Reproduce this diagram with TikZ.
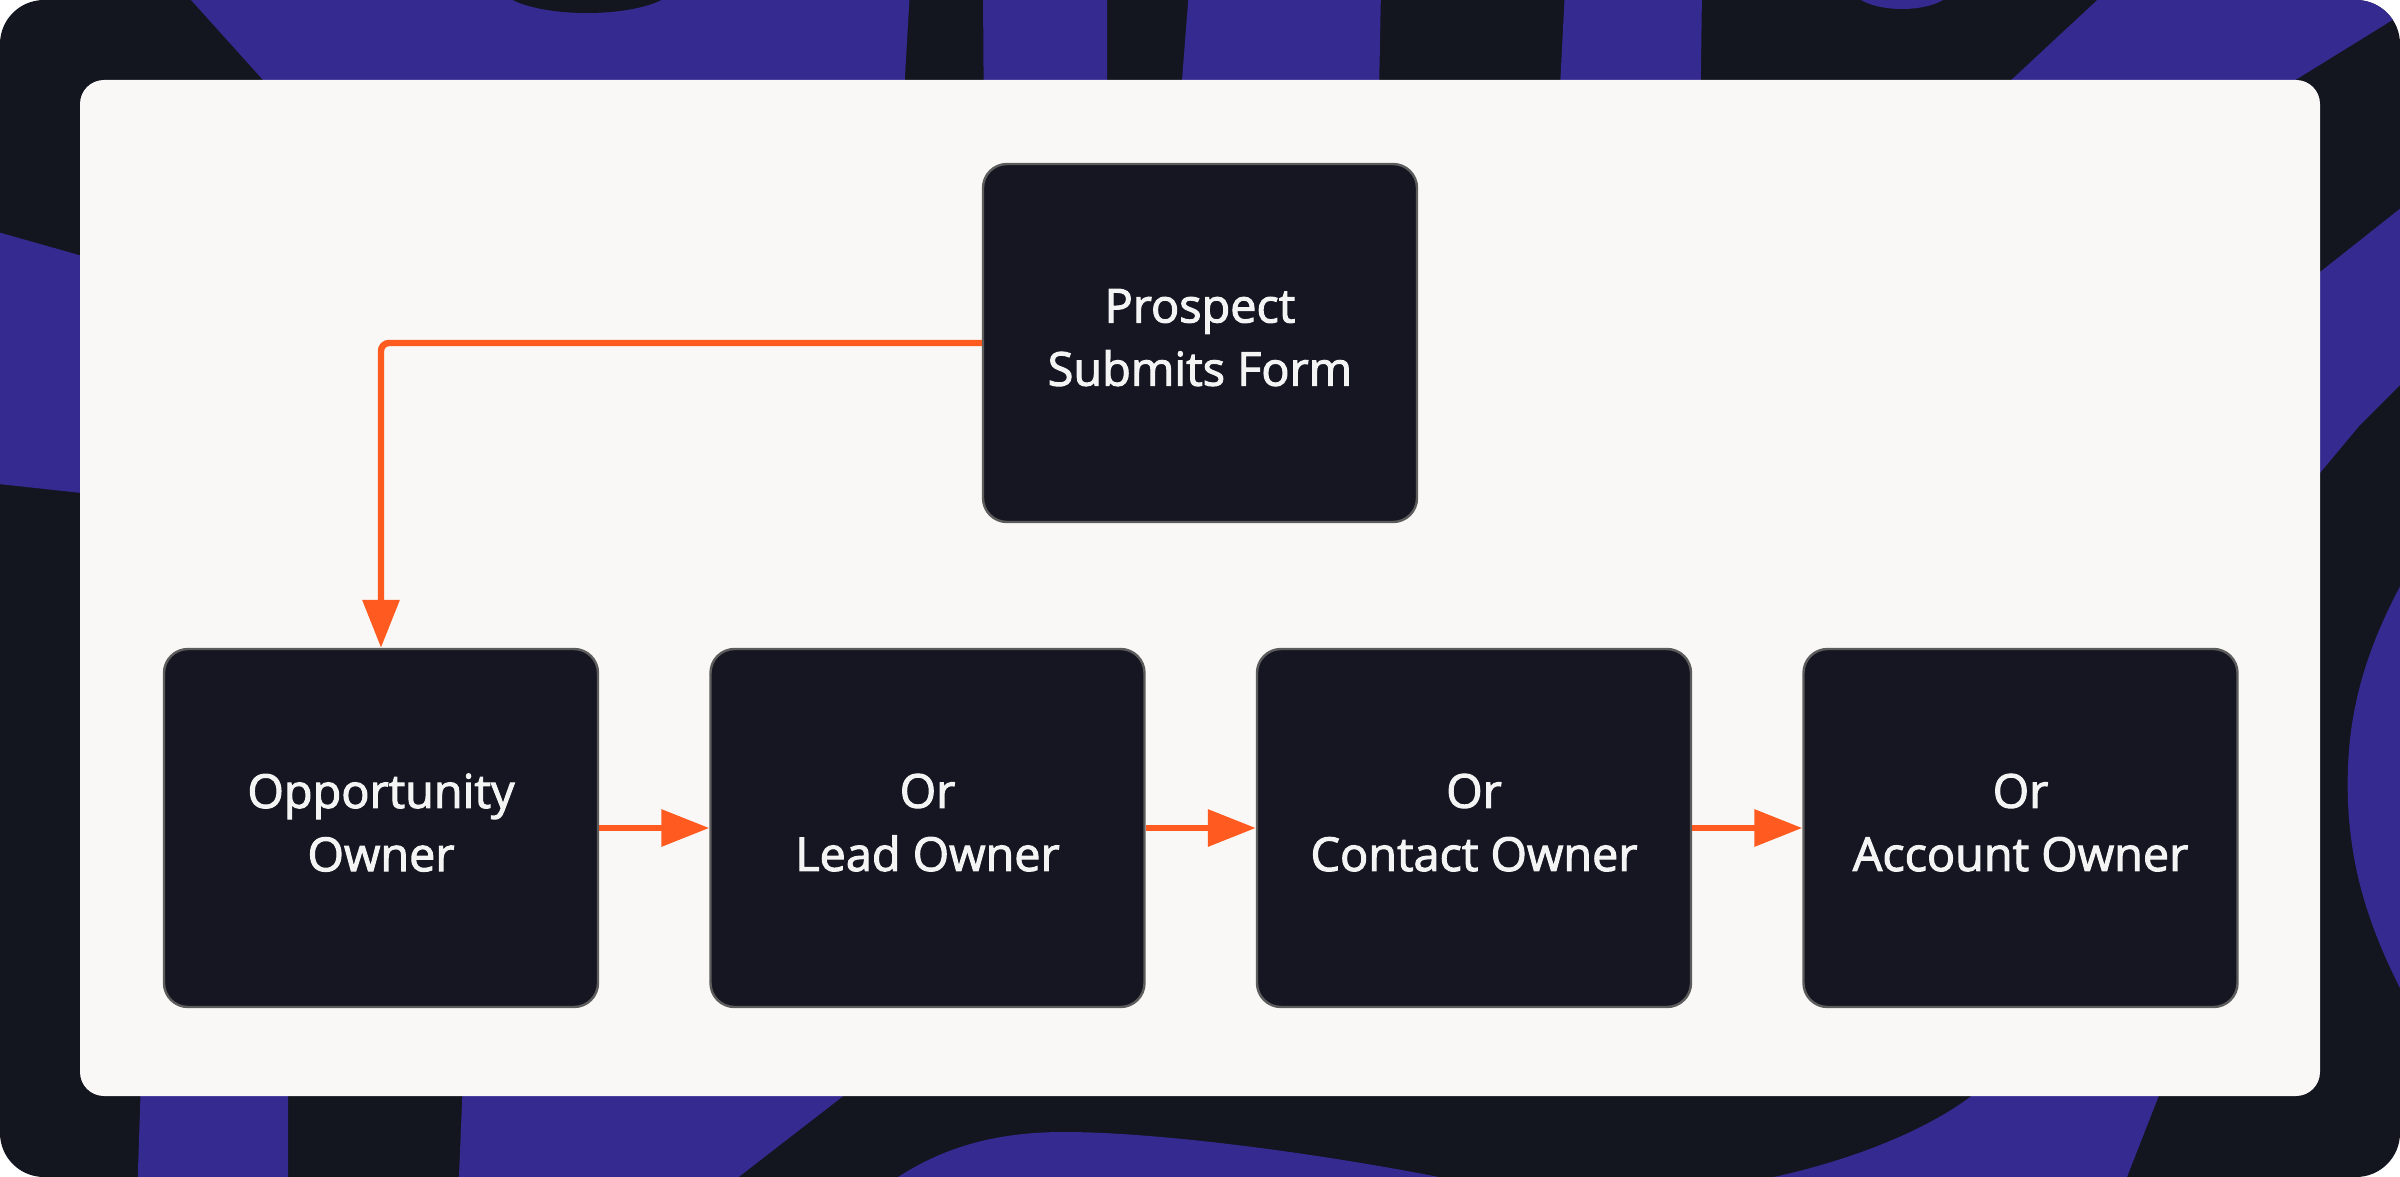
\documentclass[tikz,border=0pt]{standalone}
\usepackage{fontspec}
\setmainfont{Open Sans}
\newfontfamily\boxfont{Open Sans}[FakeBold=2.2]
\usetikzlibrary{arrows.meta}
\definecolor{frame}{HTML}{13151F}
\definecolor{purp}{HTML}{352A90}
\definecolor{panel}{HTML}{F9F8F6}
\definecolor{boxfill}{HTML}{151621}
\definecolor{boxline}{HTML}{5C5C5C}
\definecolor{arr}{HTML}{FF5A1F}
\definecolor{boxtext}{HTML}{F4F4F4}
\begin{document}
\begin{tikzpicture}[x=0.25pt,y=-0.25pt,
 flowbox/.style={draw=boxline, line width=0.6pt, fill=boxfill, rounded corners=6pt,
   minimum width=108.5pt, minimum height=89.5pt, inner sep=0pt, text=boxtext,
   text depth=2.8pt, align=center, font=\boxfont\fontsize{11.7pt}{15.8pt}\selectfont},
 flow/.style={draw=arr, line width=1.6pt, -{Triangle[length=12pt,width=9pt]}}]
\useasboundingbox (0,0) rectangle (2400,1177);
\begin{scope}
\clip[rounded corners=11pt] (0,0) rectangle (2400,1177);
\fill[frame] (0,0) rectangle (2400,1177);
% top bands
\fill[purp] (182,-10) -- (910,-10) -- (892,300) -- (461,300) -- cycle;
\fill[frame] (587,-15) ellipse [x radius=88, y radius=28];
\fill[purp] (983,-10) -- (1107,-10) -- (1107,300) -- (985,300) -- cycle;
\fill[purp] (1189,-10) -- (1381,-10) -- (1375,300) -- (1165,300) -- cycle;
\fill[purp] (1565,-10) -- (1702,-10) -- (1698,300) -- (1549,300) -- cycle;
\fill[purp] (1902,-12) ellipse [x radius=50, y radius=21];
\fill[purp] (2108,-10) -- (2420,-10) -- (2420,3) -- (2200,139) -- (1936,150) -- cycle;
% right bands
\fill[purp] (2200,367) -- (2440,177) -- (2440,350) -- (2400,385) -- (2360,425)
  -- (2320,473) -- (2250,570) -- cycle;
\fill[purp] (2440,520) .. controls (2360,640) and (2345,720) .. (2348,803)
  .. controls (2352,890) and (2380,960) .. (2440,1060) -- cycle;
% left band
\fill[purp] (-20,227) -- (100,261) -- (100,495) -- (-20,482) -- cycle;
% bottom bands
\fill[purp] (141,1080) -- (288,1080) -- (288,1200) -- (137,1200) -- cycle;
\fill[purp] (463,1080) -- (864,1080) -- (709,1200) -- (458,1200) -- cycle;
\fill[purp] (880,1200) -- (898,1177) .. controls (940,1150) and (990,1132) .. (1064,1132)
  .. controls (1150,1132) and (1300,1150) .. (1439,1177) -- (1470,1200) -- cycle;
\fill[purp] (1990,1080) .. controls (1950,1120) and (1850,1170) .. (1700,1190)
  -- (1700,1200) -- (2118,1200) -- (2165,1080) -- cycle;
\end{scope}
\fill[panel, rounded corners=6pt] (80,80) rectangle (2320,1096);
\node[flowbox] (top) at (1200,343) {Prospect\\Submits Form};
\node[flowbox] (b1) at (381,828) {Opportunity\\Owner};
\node[flowbox] (b2) at (927.5,828) {Or\\Lead Owner};
\node[flowbox] (b3) at (1474,828) {Or\\Contact Owner};
\node[flowbox] (b4) at (2020.5,828) {Or\\Account Owner};
\draw[flow, rounded corners=2pt] (top.west) -| (b1.north);
\draw[flow] (b1.east) -- (b2.west);
\draw[flow] (b2.east) -- (b3.west);
\draw[flow] (b3.east) -- (b4.west);
\end{tikzpicture}
\end{document}
